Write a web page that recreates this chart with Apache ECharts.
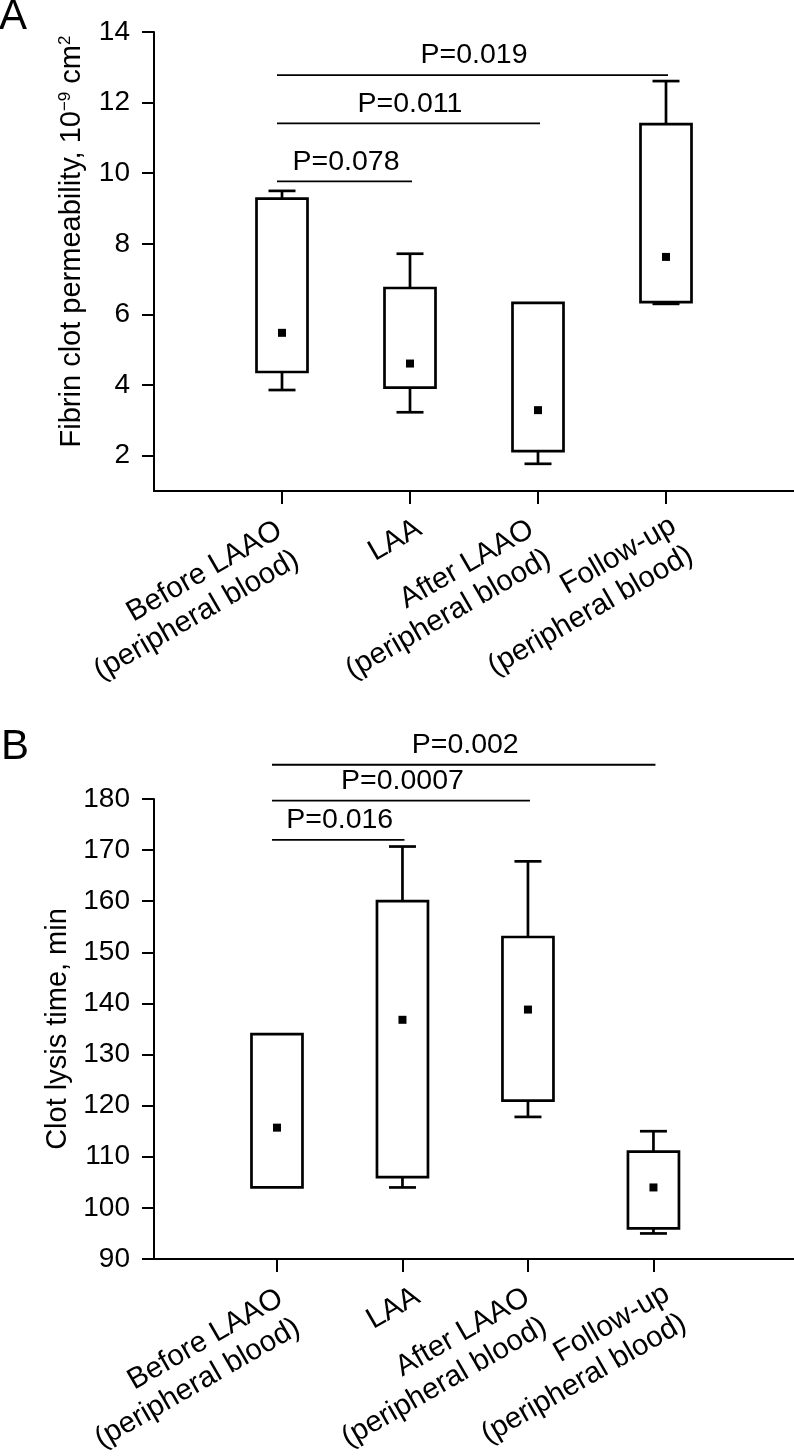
<!DOCTYPE html>
<html><head><meta charset="utf-8">
<script src="https://cdn.jsdelivr.net/npm/echarts@6/dist/echarts.min.js"></script>
<style>html,body{margin:0;padding:0;background:#fff}#c{width:794px;height:1456px}</style>
</head><body><div id="c"></div>
<script>
// ---------- data ----------
const categories = ['Before LAAO\n(peripheral blood)', 'LAA', 'After LAAO\n(peripheral blood)', 'Follow-up\n(peripheral blood)'];
const categoryPositions = [1, 2, 3, 4];
// each row: [min, Q1, median, Q3, max]
const permeabilityBoxes = [
  [3.86, 4.37, 5.48, 9.28, 9.50],
  [3.23, 3.93, 4.61, 6.75, 7.72],
  [1.77, 2.13, 3.29, 6.33, 6.33],
  [6.30, 6.35, 7.63, 11.39, 12.61]
];
const lysisBoxes = [
  [104, 104, 115.7, 134, 134],
  [104, 106, 136.8, 160, 170.7],
  [117.8, 121, 138.8, 153, 167.8],
  [95, 96, 104, 111, 115]
];
const permeabilityTicks = [2, 4, 6, 8, 10, 12, 14];
// [from category, to category, bracket height, label]
const permeabilityBrackets = [
  [1, 2, 9.77, 'P=0.078'],
  [1, 3, 11.41, 'P=0.011'],
  [1, 4, 12.78, 'P=0.019']
];
const lysisBrackets = [
  [1, 2, 172.0, 'P=0.016'],
  [1, 3, 179.7, 'P=0.0007'],
  [1, 4, 186.7, 'P=0.002']
];

// ---------- layout / style ----------
const FONT = '"Liberation Sans", Arial, Helvetica, sans-serif';
const BLACK = '#000';
// small per-label nudges (px) of the rotated category labels from their tick
const labelNudgeA = [[-10.8, 22.4], [0.6, 20.7], [-15, 21.4], [-0.9, 17.9]];
const labelNudgeB = [[-4.8, 22.4], [6.6, 20.7], [-9, 21.4], [5.1, 17.9]];

function boxRender(params, api) {
  const x = api.value(0);
  const lo = api.coord([x, api.value(1)]);
  const q1 = api.coord([x, api.value(2)]);
  const md = api.coord([x, api.value(3)]);
  const q3 = api.coord([x, api.value(4)]);
  const hi = api.coord([x, api.value(5)]);
  const cx = q1[0], hw = 25.5, cw = 13.5, lw = 2.7;
  const ls = { stroke: BLACK, lineWidth: lw };
  const ch = [];
  if (hi[1] < q3[1] - 0.5) {
    ch.push({ type: 'line', shape: { x1: cx, y1: q3[1], x2: cx, y2: hi[1] }, style: ls });
    ch.push({ type: 'line', shape: { x1: cx - cw, y1: hi[1], x2: cx + cw, y2: hi[1] }, style: ls });
  }
  if (lo[1] > q1[1] + 0.5) {
    ch.push({ type: 'line', shape: { x1: cx, y1: q1[1], x2: cx, y2: lo[1] }, style: ls });
    ch.push({ type: 'line', shape: { x1: cx - cw, y1: lo[1], x2: cx + cw, y2: lo[1] }, style: ls });
  }
  ch.push({ type: 'rect', shape: { x: cx - hw, y: q3[1], width: 2 * hw, height: q1[1] - q3[1] },
            style: { fill: '#fff', stroke: BLACK, lineWidth: lw } });
  ch.push({ type: 'rect', shape: { x: cx - 4, y: md[1] - 4, width: 8, height: 8 }, style: { fill: BLACK } });
  return { type: 'group', children: ch };
}

function bracketRender(params, api) {
  const a = api.coord([api.value(0), api.value(2)]);
  const b = api.coord([api.value(1), api.value(2)]);
  const x1 = a[0] - 5, x2 = b[0] + 2, y = a[1];
  return { type: 'group', children: [
    { type: 'line', shape: { x1: x1, y1: y, x2: x2, y2: y }, style: { stroke: BLACK, lineWidth: 1.8 } },
    { type: 'text', x: (a[0] + b[0]) / 2, y: y - 5,
      style: { text: api.value(3), fill: BLACK, font: '28.5px ' + FONT, align: 'center', verticalAlign: 'bottom' } }
  ]};
}

// category labels placed at the axis ticks (axis coordinates), rotated 30 degrees
function labelRender(yMin, nudge) {
  return function (params, api) {
    const p = api.coord([api.value(0), yMin]);
    const n = nudge[params.dataIndex];
    return {
      type: 'text', x: p[0] + n[0], y: p[1] + n[1], rotation: Math.PI / 6,
      style: { text: categories[params.dataIndex], fill: BLACK, font: '29.5px ' + FONT,
               lineHeight: 34, align: 'right', verticalAlign: 'top' }
    };
  };
}

const boxRows = (boxes) => categoryPositions.map((p, i) => [p].concat(boxes[i]));
const labelRows = categoryPositions.map((p) => [p]);

function xAxis(gridIndex, min, max) {
  return {
    type: 'value', gridIndex, min, max,
    splitLine: { show: false },
    axisLine: { lineStyle: { color: BLACK, width: 2 } },
    axisTick: { customValues: categoryPositions, length: 13, lineStyle: { color: BLACK, width: 2 } },
    axisLabel: { show: false }
  };
}

const yLabel = { fontSize: 28, color: BLACK, fontFamily: FONT, margin: 24, showMinLabel: true, showMaxLabel: true };
const yTick = { length: 12, lineStyle: { color: BLACK, width: 2 } };

const option = {
  animation: false,
  backgroundColor: '#fff',
  title: [
    { text: 'A', left: -1, top: -4, padding: 0, textStyle: { fontSize: 42, fontWeight: 'normal', color: BLACK, fontFamily: FONT } },
    { text: 'B', left: 1, top: 726, padding: 0, textStyle: { fontSize: 42, fontWeight: 'normal', color: BLACK, fontFamily: FONT } }
  ],
  grid: [
    { left: 154, top: 32, width: 640, height: 459 },
    { left: 154, top: 799, width: 640, height: 460 }
  ],
  xAxis: [ xAxis(0, 0, 5), xAxis(1, 0.02, 5.12) ],
  yAxis: [
    {
      type: 'value', gridIndex: 0, min: 1, max: 14,
      splitLine: { show: false },
      axisLine: { lineStyle: { color: BLACK, width: 2 } },
      axisTick: Object.assign({ customValues: permeabilityTicks }, yTick),
      axisLabel: Object.assign({ customValues: permeabilityTicks }, yLabel),
      name: '{n|Fibrin clot permeability, 10}{s|−9}{n| cm}{s|2}',
      nameLocation: 'middle', nameGap: 68,
      nameTextStyle: {
        color: BLACK, fontFamily: FONT, fontSize: 29, padding: [0, 0, 0, 40],
        rich: { n: { fontSize: 29, fontFamily: FONT, color: BLACK },
                s: { fontSize: 17, fontFamily: FONT, color: BLACK, verticalAlign: 'top' } }
      }
    },
    {
      type: 'value', gridIndex: 1, min: 90, max: 180, interval: 10,
      splitLine: { show: false },
      axisLine: { lineStyle: { color: BLACK, width: 2 } },
      axisTick: yTick,
      axisLabel: yLabel,
      name: 'Clot lysis time, min',
      nameLocation: 'middle', nameGap: 82,
      nameTextStyle: { color: BLACK, fontFamily: FONT, fontSize: 29 }
    }
  ],
  series: [
    { type: 'custom', xAxisIndex: 0, yAxisIndex: 0, renderItem: boxRender, data: boxRows(permeabilityBoxes), clip: false, silent: true },
    { type: 'custom', xAxisIndex: 1, yAxisIndex: 1, renderItem: boxRender, data: boxRows(lysisBoxes), clip: false, silent: true },
    { type: 'custom', xAxisIndex: 0, yAxisIndex: 0, renderItem: bracketRender, data: permeabilityBrackets, clip: false, silent: true },
    { type: 'custom', xAxisIndex: 1, yAxisIndex: 1, renderItem: bracketRender, data: lysisBrackets, clip: false, silent: true },
    { type: 'custom', xAxisIndex: 0, yAxisIndex: 0, renderItem: labelRender(1, labelNudgeA), data: labelRows, clip: false, silent: true },
    { type: 'custom', xAxisIndex: 1, yAxisIndex: 1, renderItem: labelRender(90, labelNudgeB), data: labelRows, clip: false, silent: true }
  ]
};

const chart = echarts.init(document.getElementById('c'), null, { renderer: 'canvas' });
chart.setOption(option);
</script>
</body></html>
